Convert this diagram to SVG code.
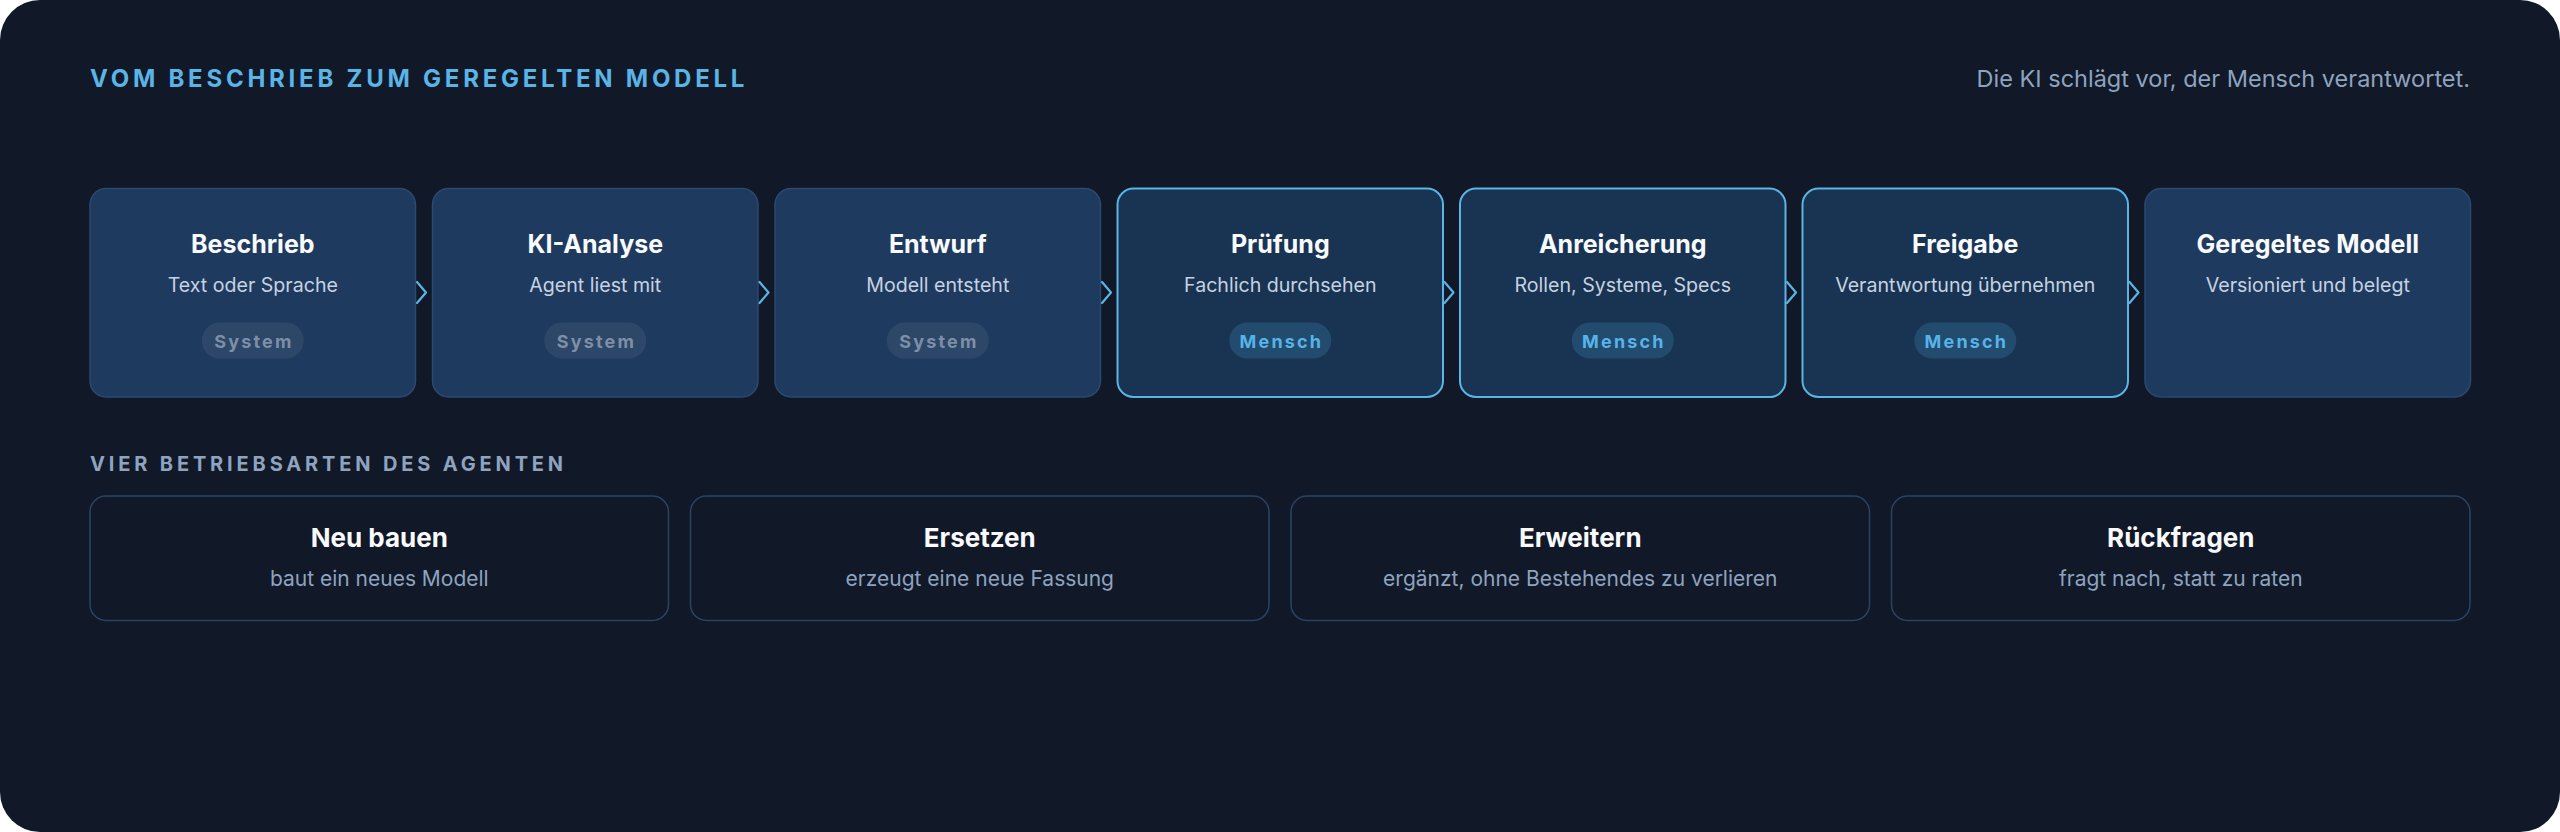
<svg xmlns="http://www.w3.org/2000/svg" width="2560" height="832" viewBox="0 0 2560 832">
  <style>
    text { font-family: "Inter", "Liberation Sans", sans-serif; }
    .h { font-size: 24px; font-weight: 700; letter-spacing: 3.75px; fill: #5ab4e5; }
    .tag { font-size: 23.5px; fill: #8ea3bf; }
    .sec { font-size: 20px; font-weight: 700; letter-spacing: 3.85px; fill: #8ea3bf; }
    .sys { fill: #1f3a5f; stroke: #2b4a70; stroke-width: 1.5; }
    .hum { fill: #183452; stroke: #5ab4e5; stroke-width: 2; }
    .t { font-size: 25px; font-weight: 700; fill: #f8fafc; text-anchor: middle; }
    .s { font-size: 19.6px; fill: #c6d2e0; text-anchor: middle; }
    .pillS { fill: #2c4768; }
    .pillH { fill: #224b6e; }
    .ps { font-size: 18px; font-weight: 700; letter-spacing: 2.2px; fill: #7d8fa8; text-anchor: middle; }
    .ph { font-size: 18px; font-weight: 700; letter-spacing: 2.2px; fill: #56b4e9; text-anchor: middle; }
    .mode { fill: #111827; stroke: #2a4466; stroke-width: 1.5; }
    .mt { font-size: 26px; font-weight: 700; fill: #f8fafc; text-anchor: middle; }
    .ms { font-size: 21px; fill: #8ea3bf; text-anchor: middle; }
    .chev { fill: none; stroke: #5ab4e5; stroke-width: 2.2; stroke-linecap: round; stroke-linejoin: round; }
  </style>
  <rect x="0" y="0" width="2560" height="832" fill="#ffffff"/>
  <rect x="0" y="0" width="2560" height="832" rx="40" fill="#111827"/>

  <text class="h" x="90" y="87">VOM BESCHRIEB ZUM GEREGELTEN MODELL</text>
  <text class="tag" x="2470" y="86.5" text-anchor="end">Die KI schlägt vor, der Mensch verantwortet.</text>

  <g id="step-beschrieb">
    <rect class="sys" x="90" y="188.5" width="325.5" height="208.5" rx="16"/>
    <text class="t" x="252.8" y="253">Beschrieb</text>
    <text class="s" x="252.8" y="292">Text oder Sprache</text>
    <rect class="pillS" x="201.8" y="322.5" width="102" height="36" rx="18"/>
    <text class="ps" x="253.9" y="347.5">System</text>
  </g>
  <g id="step-ki-analyse">
    <rect class="sys" x="432.5" y="188.5" width="325.5" height="208.5" rx="16"/>
    <text class="t" x="595.3" y="253">KI-Analyse</text>
    <text class="s" x="595.3" y="292">Agent liest mit</text>
    <rect class="pillS" x="544.3" y="322.5" width="102" height="36" rx="18"/>
    <text class="ps" x="596.4" y="347.5">System</text>
  </g>
  <g id="step-entwurf">
    <rect class="sys" x="775" y="188.5" width="325.5" height="208.5" rx="16"/>
    <text class="t" x="937.8" y="253">Entwurf</text>
    <text class="s" x="937.8" y="292">Modell entsteht</text>
    <rect class="pillS" x="886.8" y="322.5" width="102" height="36" rx="18"/>
    <text class="ps" x="938.9" y="347.5">System</text>
  </g>
  <g id="step-pruefung">
    <rect class="hum" x="1117.5" y="188.5" width="325.5" height="208.5" rx="16"/>
    <text class="t" x="1280.3" y="253">Prüfung</text>
    <text class="s" x="1280.3" y="292">Fachlich durchsehen</text>
    <rect class="pillH" x="1229.3" y="322.5" width="102" height="36" rx="18"/>
    <text class="ph" x="1281.4" y="347.5">Mensch</text>
  </g>
  <g id="step-anreicherung">
    <rect class="hum" x="1460" y="188.5" width="325.5" height="208.5" rx="16"/>
    <text class="t" x="1622.8" y="253">Anreicherung</text>
    <text class="s" x="1622.8" y="292">Rollen, Systeme, Specs</text>
    <rect class="pillH" x="1571.8" y="322.5" width="102" height="36" rx="18"/>
    <text class="ph" x="1623.9" y="347.5">Mensch</text>
  </g>
  <g id="step-freigabe">
    <rect class="hum" x="1802.5" y="188.5" width="325.5" height="208.5" rx="16"/>
    <text class="t" x="1965.3" y="253">Freigabe</text>
    <text class="s" x="1965.3" y="292">Verantwortung übernehmen</text>
    <rect class="pillH" x="1914.3" y="322.5" width="102" height="36" rx="18"/>
    <text class="ph" x="1966.4" y="347.5">Mensch</text>
  </g>
  <g id="step-geregeltes-modell">
    <rect class="sys" x="2145" y="188.5" width="325.5" height="208.5" rx="16"/>
    <text class="t" x="2307.8" y="253">Geregeltes Modell</text>
    <text class="s" x="2307.8" y="292">Versioniert und belegt</text>
  </g>

  <g id="connectors">
    <path class="chev" d="M417 282 L426 292.5 L417 303"/>
    <path class="chev" d="M759.5 282 L768.5 292.5 L759.5 303"/>
    <path class="chev" d="M1102 282 L1111 292.5 L1102 303"/>
    <path class="chev" d="M1444.5 282 L1453.5 292.5 L1444.5 303"/>
    <path class="chev" d="M1787 282 L1796 292.5 L1787 303"/>
    <path class="chev" d="M2129.5 282 L2138.5 292.5 L2129.5 303"/>
  </g>

  <text class="sec" x="90" y="471">VIER BETRIEBSARTEN DES AGENTEN</text>

  <g id="mode-neu-bauen">
    <rect class="mode" x="90" y="496" width="578.5" height="124.5" rx="16"/>
    <text class="mt" x="379.3" y="547">Neu bauen</text>
    <text class="ms" x="379.3" y="586">baut ein neues Modell</text>
  </g>
  <g id="mode-ersetzen">
    <rect class="mode" x="690.5" y="496" width="578.5" height="124.5" rx="16"/>
    <text class="mt" x="979.8" y="547">Ersetzen</text>
    <text class="ms" x="979.8" y="586">erzeugt eine neue Fassung</text>
  </g>
  <g id="mode-erweitern">
    <rect class="mode" x="1291" y="496" width="578.5" height="124.5" rx="16"/>
    <text class="mt" x="1580.3" y="547">Erweitern</text>
    <text class="ms" x="1580.3" y="586">ergänzt, ohne Bestehendes zu verlieren</text>
  </g>
  <g id="mode-rueckfragen">
    <rect class="mode" x="1891.5" y="496" width="578.5" height="124.5" rx="16"/>
    <text class="mt" x="2180.8" y="547">Rückfragen</text>
    <text class="ms" x="2180.8" y="586">fragt nach, statt zu raten</text>
  </g>
</svg>
